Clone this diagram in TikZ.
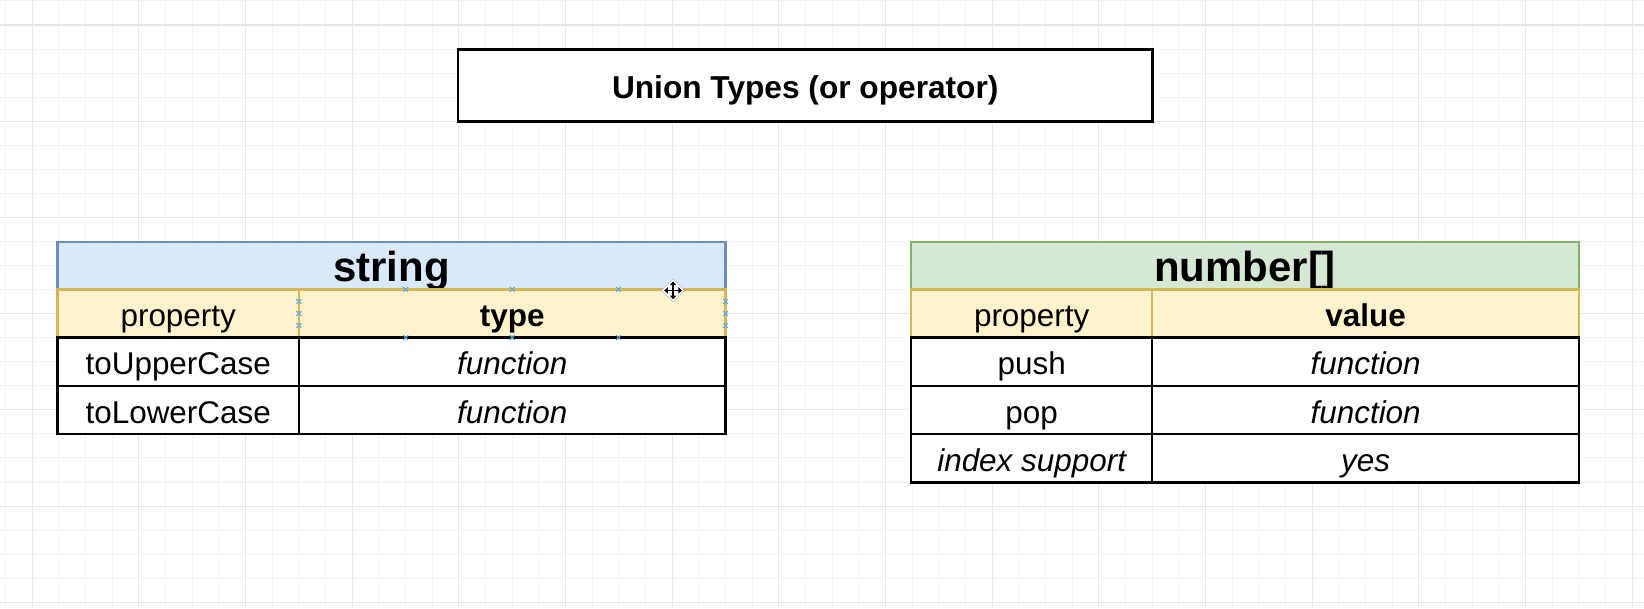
\documentclass[tikz,border=0pt]{standalone}
\usepackage{fontspec}
\setmainfont{Liberation Sans}
\usetikzlibrary{arrows.meta}
\definecolor{bluefill}{HTML}{DAE8FC}
\definecolor{bluedraw}{HTML}{6C8EBF}
\definecolor{greenfill}{HTML}{D5E8D4}
\definecolor{greendraw}{HTML}{82B366}
\definecolor{yelfill}{HTML}{FFF2CC}
\definecolor{yeldraw}{HTML}{D6B656}
\definecolor{gridminor}{HTML}{F4F4F4}
\definecolor{gridmajor}{HTML}{E7E7E7}
\definecolor{markblue}{HTML}{5AA9E6}
\tikzset{
  cell/.style={draw=black, fill=white, line width=2.3pt, inner sep=0pt, outer sep=0pt,
    text height=25.3pt, text depth=0pt, minimum height=46pt,
    font=\fontsize{30}{30}\selectfont},
  colA/.style={minimum width=230pt},
  colB/.style={minimum width=407pt},
  subhead/.style={cell, fill=yelfill, draw=yeldraw},
  bluehead/.style={cell, fill=bluefill, draw=bluedraw, minimum width=637pt, minimum height=45pt,
    text height=29.6pt, font=\fontsize{40}{40}\selectfont\bfseries},
  greenhead/.style={bluehead, fill=greenfill, draw=greendraw},
  titlebox/.style={draw=black, fill=white, line width=2.5pt, inner sep=0pt,
    minimum width=662pt, minimum height=69pt, text height=24.6pt, text depth=0pt,
    font=\fontsize{30.2}{31}\selectfont\bfseries},
  gminor/.style={gridminor, line width=1pt},
  gmajor/.style={gridmajor, line width=1pt},
  xmark/.style={markblue, line width=1pt},
}
\begin{document}
\begin{tikzpicture}[x=1pt,y=-1pt]
\useasboundingbox (0,0) rectangle (1568,580);
\fill[white] (0,0) rectangle (1568,580);
% grid
\foreach \k in {0,...,61} \draw[gminor] ({5.37+25.43*\k},0) -- ({5.37+25.43*\k},580);
\foreach \k in {0,...,25} \draw[gminor] (0,{0.91+22.94*\k}) -- (1568,{0.91+22.94*\k});
\foreach \m in {0,...,15} \draw[gmajor] ({30.8+101.72*\m},0) -- ({30.8+101.72*\m},580);
\foreach \m in {0,...,6} \draw[gmajor] (0,{23.85+91.76*\m}) -- (1568,{23.85+91.76*\m});

% title
\node[titlebox] (title) at (768,81.5) {Union Types (or operator)};

% left table: string
\node[bluehead] (sh) at (373.5,253.5) {string};
\node[subhead,colA] (s11) at (170,299) {property};
\node[subhead,colB] (s12) at (488.5,299) {\bfseries type};
\node[cell,colA] (s21) at (170,345) {toUpperCase};
\node[cell,colB] (s22) at (488.5,345) {\itshape function};
\node[cell,colA] (s31) at (170,391) {toLowerCase};
\node[cell,colB] (s32) at (488.5,391) {\itshape function};

% right table: number[]
\node[greenhead] (nh) at (1187.5,253.5) {number[]};
\node[subhead,colA] (n11) at (984,299) {property};
\node[subhead,colB] (n12) at (1302.5,299) {\bfseries value};
\node[cell,colA] (n21) at (984,345) {push};
\node[cell,colB] (n22) at (1302.5,345) {\itshape function};
\node[cell,colA] (n31) at (984,391) {pop};
\node[cell,colB] (n32) at (1302.5,391) {\itshape function};
\node[cell,colA] (n41) at (984,437) {\itshape index support};
\node[cell,colB] (n42) at (1302.5,437) {\itshape yes};

% selection markers on the "type" cell
\foreach \px/\py in {387/276,488.5/276,590/276,387/322,488.5/322,590/322,
                     285/287.5,285/299,285/310.5,692/287.5,692/299,692/310.5}
  \draw[xmark] (\px-2.3,\py-2.3) -- (\px+2.3,\py+2.3) (\px-2.3,\py+2.3) -- (\px+2.3,\py-2.3);

% move cursor
\coordinate (cur) at (642,277);
\fill[white, draw=black!25, line width=0.6pt] ([shift={(-11,0)}]cur) -- ([shift={(0,-11)}]cur)
  -- ([shift={(11,0)}]cur) -- ([shift={(0,11)}]cur) -- cycle;
\draw[line width=1.6pt, {Triangle[length=3.5pt,width=6pt]}-{Triangle[length=3.5pt,width=6pt]}]
  ([xshift=-8.5pt]cur) -- ([xshift=8.5pt]cur);
\draw[line width=1.6pt, {Triangle[length=3.5pt,width=6pt]}-{Triangle[length=3.5pt,width=6pt]}]
  ([yshift=-8.5pt]cur) -- ([yshift=8.5pt]cur);
\end{tikzpicture}
\end{document}
